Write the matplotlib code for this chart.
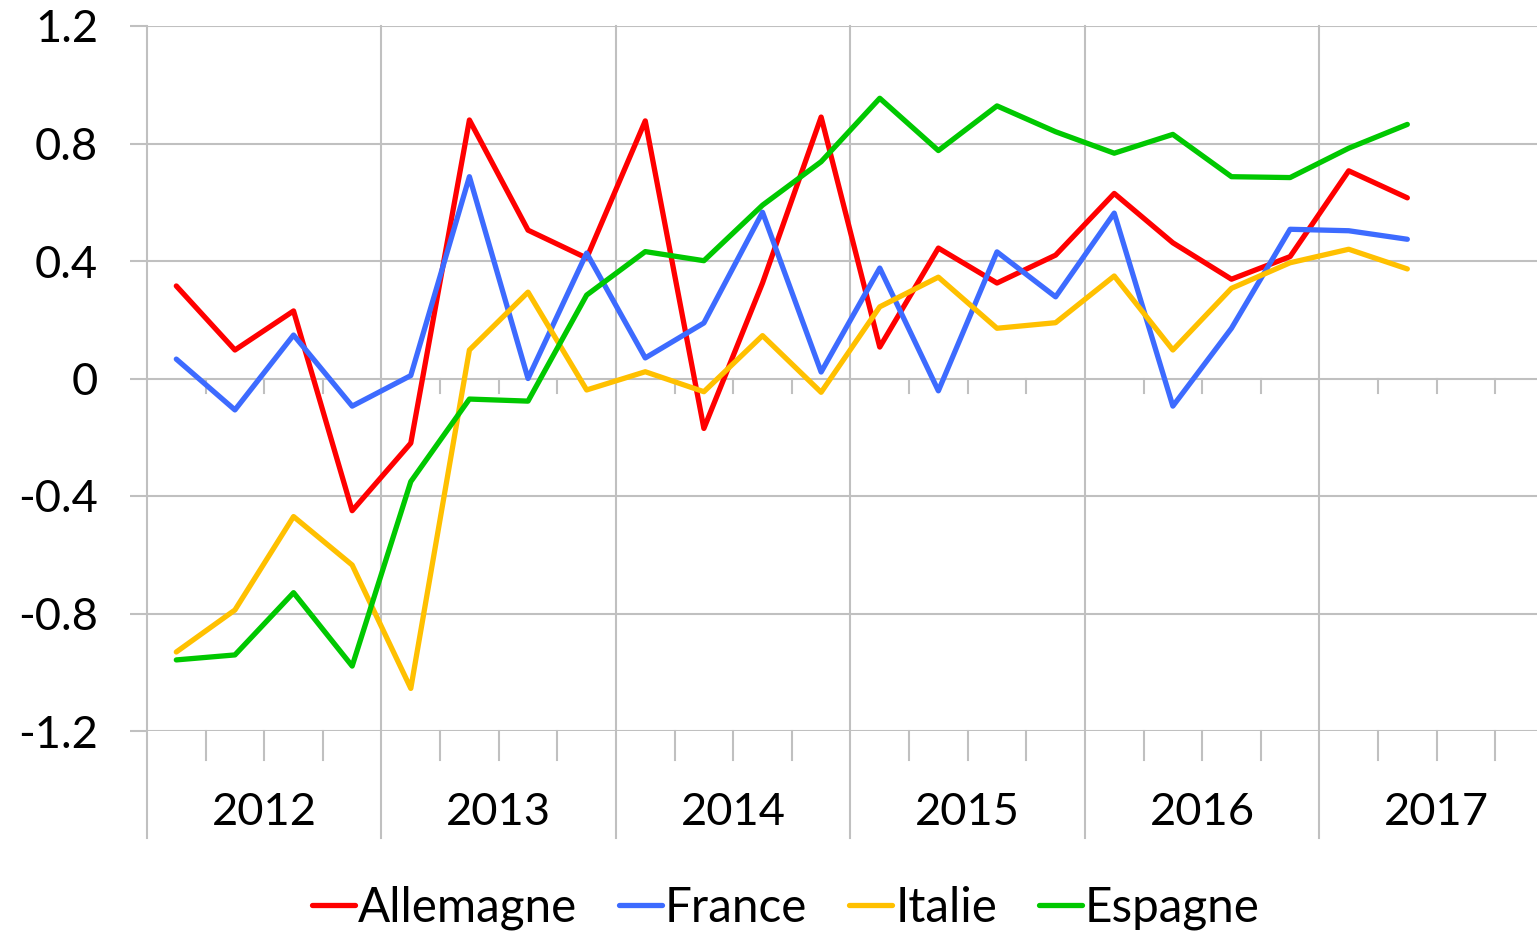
import numpy as np
import matplotlib; matplotlib.use("Agg")
import matplotlib.pyplot as plt

years = ["2012", "2013", "2014", "2015", "2016", "2017"]
allemagne = [0.315, 0.097, 0.23, -0.45, -0.22, 0.88, 0.505, 0.41, 0.877, -0.17, 0.325, 0.89,
             0.107, 0.444, 0.325, 0.42, 0.63, 0.462, 0.338, 0.415, 0.707, 0.615]
france = [0.066, -0.107, 0.148, -0.094, 0.01, 0.687, 0.0, 0.427, 0.07, 0.189, 0.566, 0.022,
          0.376, -0.042, 0.431, 0.278, 0.563, -0.094, 0.171, 0.508, 0.503, 0.474]
italie = [-0.931, -0.788, -0.47, -0.635, -1.055, 0.097, 0.294, -0.039, 0.023, -0.045, 0.146, -0.047,
          0.244, 0.345, 0.171, 0.19, 0.349, 0.097, 0.307, 0.394, 0.44, 0.373]
espagne = [-0.958, -0.941, -0.729, -0.979, -0.351, -0.070, -0.077, 0.284, 0.432, 0.401, 0.59, 0.738,
           0.954, 0.776, 0.928, 0.84, 0.767, 0.831, 0.687, 0.684, 0.784, 0.865]
series = [("Allemagne", allemagne, "#FF0000"), ("France", france, "#3D6BFF"),
          ("Italie", italie, "#FFC000"), ("Espagne", espagne, "#00C800")]

plt.rcParams["font.family"] = ["Lato", "DejaVu Sans"]
GRID = "#C0C0C0"
FS = 32.6

fig = plt.figure(figsize=(15.37, 9.32), dpi=100)
ax = fig.add_axes([147/1537, 1-731/932, (24*58.62)/1537, (731-26)/932])
nq = 4*len(years)
ax.set_xlim(0, nq); ax.set_ylim(-1.2, 1.2)
for s in ax.spines.values(): s.set_visible(False)

yt = np.round(np.arange(-1.2, 1.21, 0.4), 1)
ax.set_yticks(yt)
ax.set_yticklabels(["0" if v == 0 else f"{v:g}" for v in yt], fontsize=FS)
ax.tick_params(axis="y", length=12.2, width=1.5, color=GRID, pad=23)
ax.set_xticks([])
for v in yt:
    ax.axhline(v, color=GRID, lw=1.5, zorder=1)

# year separators, extended below the plot
for k in range(0, nq+1, 4):
    ax.plot([k, k], [-1.564, 1.2], color=GRID, lw=1.5, clip_on=False, zorder=1)
# quarter ticks on zero line and bottom axis
for k in range(1, nq):
    if k % 4:
        ax.plot([k, k], [0, -0.051], color=GRID, lw=1.5, clip_on=False, zorder=1)
        ax.plot([k, k], [-1.2, -1.299], color=GRID, lw=1.5, clip_on=False, zorder=1)
for i, y in enumerate(years):
    ax.text(4*i+2, -1.476, y, ha="center", va="center", fontsize=FS)

x = np.arange(len(allemagne)) + 0.5
for name, vals, col in series:
    ax.plot(x, vals, color=col, lw=3.8, label=name, zorder=3, solid_capstyle="round", solid_joinstyle="round")

fig.legend(loc="center", bbox_to_anchor=(786/1537, 1-908/932), ncol=4, frameon=False, fontsize=34.3,
           handlelength=0.9, handletextpad=0.06, columnspacing=0.88, borderpad=0)
fig.savefig("out.png", dpi=100)
